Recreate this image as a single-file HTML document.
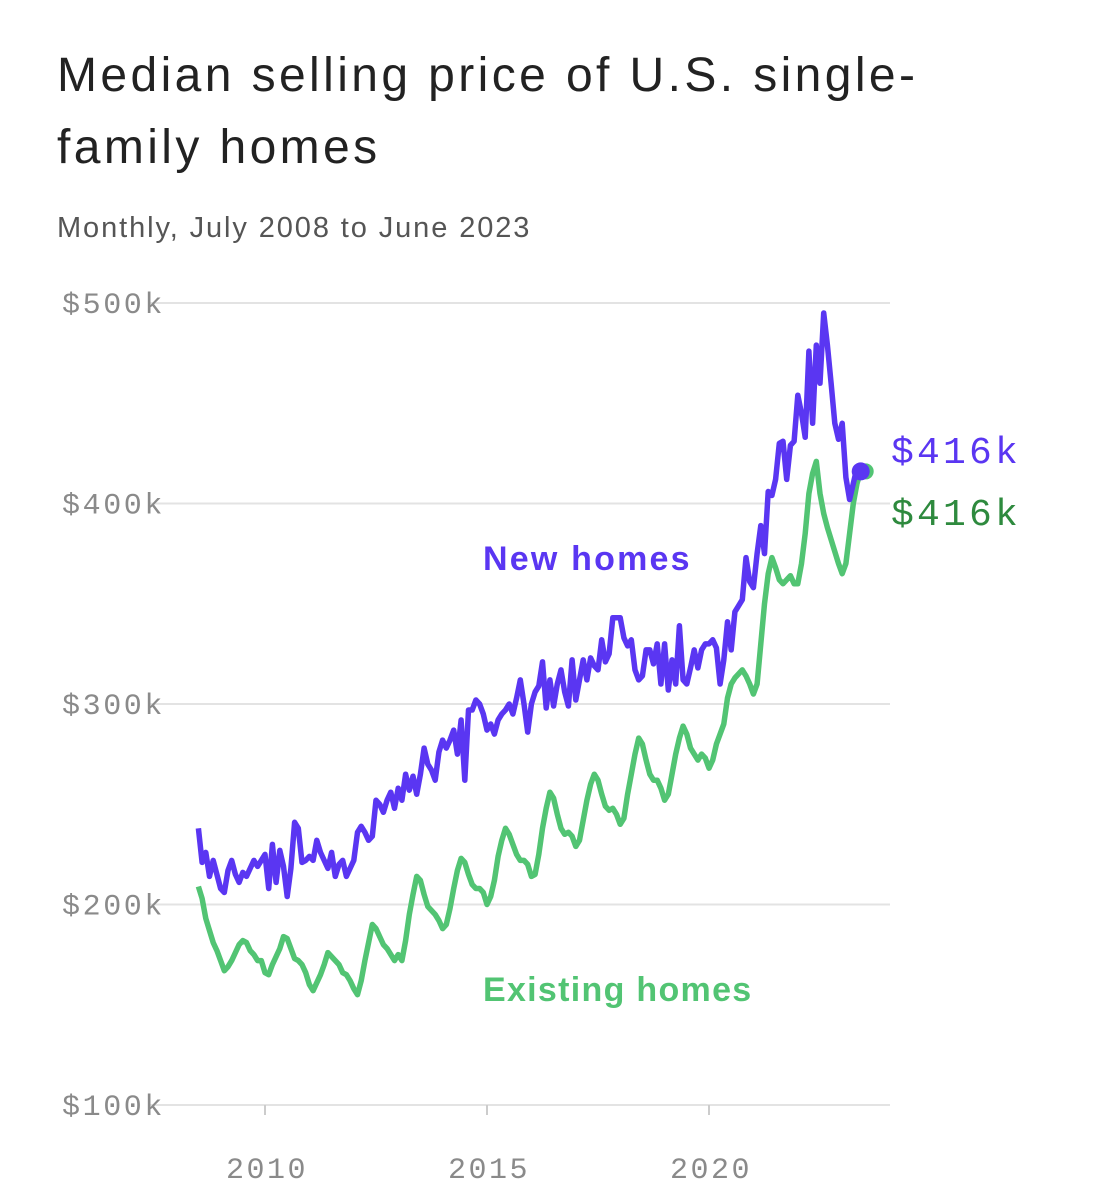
<!DOCTYPE html>
<html><head><meta charset="utf-8"><style>
body{margin:0;background:#fff;width:1107px;height:1200px;overflow:hidden;font-family:"Liberation Sans",sans-serif}
h1{position:absolute;left:57px;top:40px;margin:0;font-weight:400;font-size:48px;letter-spacing:3.4px;line-height:72px;color:#222;width:1000px}
.sub{position:absolute;left:57px;top:212px;font-size:29px;letter-spacing:1.9px;color:#555}
svg{position:absolute;left:0;top:0}
</style></head><body>
<h1>Median selling price of U.S. single-<br>family homes</h1>
<div class="sub">Monthly, July 2008 to June 2023</div>
<svg id="c" width="1107" height="1200"></svg>
<script>
const yTicks=[100,200,300,400,500];
const yTickLabels=["$100k","$200k","$300k","$400k","$500k"];
const xTicks=[2010,2015,2020];
const xTickLabels=["2010","2015","2020"];
const startYear=2008.5;
const existingHomes=[209,203,193,187,181,177,
172,167,169,172,176,180,182,181,177,175,172,172,
166,165,170,174,178,184,183,178,173,172,170,166,
160,157,161,165,170,176,174,172,170,166,165,162,
158,155,162,172,181,190,188,184,180,178,175,172,
175,172,182,195,205,214,212,205,199,197,195,192,
188,190,198,208,217,223,221,215,210,208,208,206,
200,204,212,224,232,238,235,230,225,222,222,220,
214,215,225,238,248,256,253,245,238,235,236,234,
229,232,242,252,260,265,262,255,249,247,248,245,
240,243,255,265,275,283,280,272,265,262,262,258,
252,255,265,275,283,289,285,278,275,272,275,273,
268,272,280,285,290,303,310,313,315,317,314,310,
305,310,330,350,365,373,368,362,360,362,364,360,
360,370,385,405,415,421,405,395,388,382,376,370,
365,370,385,400,410,416];
const newHomes=[238,221,226,214,222,215,
208,206,217,222,215,211,216,214,218,222,219,222,
225,208,230,211,227,219,204,218,241,238,221,222,
224,222,232,226,222,218,226,214,220,222,214,218,
222,236,239,236,232,234,252,250,246,252,256,248,
258,252,265,257,264,255,265,278,270,267,262,276,
282,278,282,287,275,292,262,297,297,302,300,295,
287,290,285,292,295,297,300,295,303,312,300,286,
300,306,309,321,298,312,299,310,317,306,299,322,
302,312,322,312,323,319,317,332,321,325,343,343,
343,333,329,332,317,312,314,327,327,320,330,310,
330,307,322,310,339,312,310,318,327,318,327,330,
330,332,328,310,322,341,327,346,349,352,373,361,
358,375,389,375,406,404,412,430,431,412,429,431,
454,445,433,476,440,479,460,495,479,460,440,432,
440,413,402,410,418,416];
const X=t=>265+(t-2010)*44.4;
const Y=v=>1105-(v-100)*2.005;
const mx=i=>X(startYear+i/12);
const svg=document.getElementById('c');const NS='http://www.w3.org/2000/svg';
function mk(tag,a){const e=document.createElementNS(NS,tag);for(const k in a)e.setAttribute(k,a[k]);svg.appendChild(e);return e;}
yTicks.forEach((v,i)=>{
const g=mk('line',{x1:150,x2:890,y1:Y(v),y2:Y(v),stroke:'#e3e3e3','stroke-width':2});


const t=mk('text',{x:62,y:Y(v)+10,'font-family':'Liberation Mono, monospace','font-size':30,'letter-spacing':2.6,fill:'#8a8a8a'});
t.textContent=yTickLabels[i];


});
xTicks.forEach((v,i)=>{
const l=mk('line',{x1:X(v),x2:X(v),y1:1105,y2:1115,stroke:'#ccc','stroke-width':2});


const t=mk('text',{x:X(v)+2,y:1178,'text-anchor':'middle','font-family':'Liberation Mono, monospace','font-size':30,'letter-spacing':2.5,fill:'#8a8a8a'});
t.textContent=xTickLabels[i];


});
function line(arr,color,name){
const p=mk('path',{d:arr.map((v,i)=>(i?'L':'M')+mx(i).toFixed(1)+','+Y(v).toFixed(1)).join(''),fill:'none',stroke:color,'stroke-width':5.5,'stroke-linejoin':'round'});


}
line(existingHomes,'#52c473','existing-homes-line');
line(newHomes,'#5a36f2','new-homes-line');
const n=existingHomes.length-1;
const d1=mk('circle',{cx:mx(n)+5,cy:Y(existingHomes[n]),r:8,fill:'#52c473'});


const d2=mk('circle',{cx:mx(newHomes.length-1),cy:Y(newHomes[newHomes.length-1]),r:9,fill:'#5a36f2'});


function lab(txt,x,y,color,size,fam,w,ls,name){const t=mk('text',{x:x,y:y,fill:color,'font-size':size,'font-family':fam,'font-weight':w,'letter-spacing':ls});t.textContent=txt;

}
lab('New homes',483,570,'#5a36f2',34,'Liberation Sans, sans-serif','bold',2.2,'new-homes-label');
lab('Existing homes',483,1001,'#52c473',34,'Liberation Sans, sans-serif','bold',1.3,'existing-homes-label');
lab('$'+newHomes[newHomes.length-1]+'k',891,463,'#5a36f2',38,'Liberation Mono, monospace','normal',3.2,'new-homes-value');
lab('$'+existingHomes[n]+'k',891,525,'#2e8a3e',38,'Liberation Mono, monospace','normal',3.2,'existing-homes-value');
</script>
</body></html>
